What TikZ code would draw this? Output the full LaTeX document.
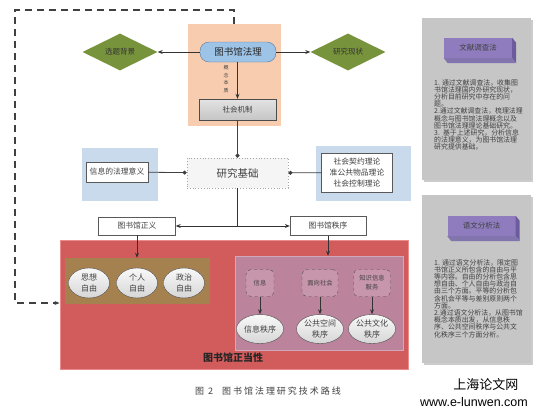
\documentclass[tikz,border=0pt]{standalone}
\usepackage{fontspec}
\setmainfont{Noto Sans CJK SC}
\newfontfamily\capfont[LetterSpace=22]{Noto Sans CJK SC}
\newfontfamily\urlfont{Liberation Sans}
\usetikzlibrary{shapes.geometric,arrows.meta}

\definecolor{peach}{RGB}{248,205,175}
\definecolor{lawblue}{RGB}{157,195,230}
\definecolor{lawedge}{RGB}{90,120,160}
\definecolor{olivegreen}{RGB}{119,147,60}
\definecolor{paleblue}{RGB}{200,218,235}
\definecolor{redbg}{RGB}{210,92,92}
\definecolor{redline}{RGB}{232,140,140}
\definecolor{brownbg}{RGB}{165,129,80}
\definecolor{mauve}{RGB}{188,132,156}
\definecolor{mauvebox}{RGB}{200,150,172}
\definecolor{panelgray}{RGB}{198,198,198}
\definecolor{methodfront}{RGB}{142,124,190}
\definecolor{methodside}{RGB}{108,92,158}
\definecolor{txt}{RGB}{64,64,64}

\tikzset{
  whitebox/.style={draw=gray!70!black,fill=white,inner sep=0pt,text=txt,
    font=\fontsize{7.8}{11}\selectfont,align=center},
  diam/.style={diamond,fill=olivegreen,inner sep=0pt,minimum width=75pt,
    minimum height=29pt,text=black!80,font=\fontsize{7.5}{9}\selectfont},
  oval/.style={ellipse,draw=gray!60!black,top color=gray!5,bottom color=gray!32,
    inner sep=0pt,text=txt,font=\fontsize{8}{11}\selectfont,align=center},
  dashsq/.style={draw=black!70,dashed,rounded corners=5pt,fill=mauvebox,inner sep=0pt,
    minimum height=27pt,text=txt,font=\fontsize{6.3}{9}\selectfont,align=center},
  link/.style={thick,black!80,-{Stealth[length=5pt,width=4pt]}},
  dotlink/.style={thick,black!75,-{Circle[length=4pt]}},
  panel/.style={fill=panelgray,inner sep=0pt,minimum width=109pt},
  method/.style={fill=methodfront,inner sep=0pt,minimum width=68pt,minimum height=20pt,
    text=txt,font=\fontsize{7.5}{9}\selectfont},
  note/.style={text=txt,align=left,inner sep=0pt,font=\fontsize{6.9}{7.2}\selectfont}
}

\begin{document}
\begin{tikzpicture}[x=1pt,y=-1pt]
\useasboundingbox (0,0) rectangle (533,415);

% background blocks
\node[fill=peach,minimum width=93pt,minimum height=102pt,inner sep=0pt] (core) at (234.5,75) {};
\fill[paleblue] (82,148) rectangle (158,201);
\fill[paleblue] (316,146) rectangle (411,201);

% top part
\node[draw=lawedge,fill=lawblue,rounded corners=9pt,minimum width=76pt,minimum height=20pt,
  inner sep=0pt,text=black!85,font=\fontsize{9.5}{11}\selectfont] (law) at (238,52) {图书馆法理};
\node[diam] (topic) at (120,52) {选题背景};
\node[diam] (status) at (348,52) {研究现状};
\node[draw=gray!60!black,top color=gray!22,bottom color=gray!45,minimum width=77pt,
  minimum height=21pt,inner sep=0pt,text=txt,font=\fontsize{7.5}{9}\selectfont] (mech) at (237.5,109.5) {社会机制};
\node[text=txt,align=center,inner sep=0pt,font=\fontsize{5}{7.5}\selectfont] (essence) at (226,79) {概\\念\\本\\质};

\draw[link] (law) -- (topic);
\draw[link] (law) -- (status);
\draw[link] (law.south -| mech.north) -- (mech);

% research basis
\node[draw=gray!70,dotted,thick,fill=gray!8,minimum width=101pt,minimum height=30pt,
  inner sep=0pt,text=txt,font=\fontsize{10.5}{12}\selectfont] (base) at (237.5,173) {研究基础};
\node[whitebox,minimum width=62pt,minimum height=20pt] (info) at (117,172) {信息的法理意义};
\node[whitebox,minimum width=71pt,minimum height=39pt] (theory) at (357,172.5) {社会契约理论\\准公共物品理论\\社会控制理论};

\draw[dotlink] (mech) -- (base);
\draw[dotlink] (info) -- (base);
\draw[dotlink] (theory) -- (base);

\node[whitebox,minimum width=77pt,minimum height=18pt] (just) at (137,226) {图书馆正义};
\node[whitebox,minimum width=76pt,minimum height=19pt] (order) at (328,226) {图书馆秩序};
\coordinate (fork) at (237.5,226);
\draw[thick,black!80] (base) -- (fork);
\draw[link] (fork) -- (just);
\draw[link] (fork) -- (order);

% legitimacy block
\node[fill=redbg,draw=redline,line width=1pt,minimum width=348pt,minimum height=129pt,
  inner sep=0pt] (legit) at (234,304.5) {};
\node[text=black!85,font=\fontsize{10}{12}\selectfont\bfseries] (legitlabel) at (233,358) {图书馆正当性};

\node[fill=brownbg,minimum width=145pt,minimum height=46pt,inner sep=0pt] (free) at (137,281) {};
\node[oval,minimum width=41pt,minimum height=30pt] (thought) at (89,283) {思想\\自由};
\node[oval,minimum width=41pt,minimum height=30pt] (person) at (137,283) {个人\\自由};
\node[oval,minimum width=41pt,minimum height=30pt] (politic) at (184,283) {政治\\自由};

\node[fill=mauve,draw=mauve!70!white,minimum width=168pt,minimum height=94pt,inner sep=0pt] (ord) at (319,303) {};
\node[dashsq,minimum width=28pt] (infosq) at (260,283) {信息};
\node[dashsq,minimum width=36pt] (socsq) at (320,283) {面向社会};
\node[dashsq,minimum width=37pt] (servsq) at (372,283) {知识信息\\服务};
\node[oval,minimum width=47pt,minimum height=29pt] (infoord) at (260,329) {信息秩序};
\node[oval,minimum width=47pt,minimum height=29pt] (spaceord) at (320,329) {公共空间\\秩序};
\node[oval,minimum width=47pt,minimum height=29pt] (cultord) at (372,329) {公共文化\\秩序};

\draw[link] (just) -- (free);
\draw[link] (order) -- (order |- ord.north);
\draw[link] (infosq) -- (infoord);
\draw[link] (socsq) -- (spaceord);
\draw[link] (servsq) -- (cultord);

% dashed loop back
\coordinate (loopstart) at (234,24);
\draw[black!75,line width=1.1pt,dash pattern=on 7pt off 5pt,-{Stealth[length=5pt,width=4pt]}]
  (loopstart) -- (234,10) -- (15,10) -- (15,303) -- (legit.west |- 15,303);

% method panels
\fill[gray!40] (424,20) rectangle (533,182);
\node[panel,minimum height=162pt] (panel1) at (476.5,99) {};
\node[method] (literature) at (478,48) {文献调查法};
\fill[methodside] (literature.north east) -- ++(4,5) -- ([shift={(4,5)}]literature.south east) -- (literature.south east) -- cycle;
\fill[methodside!85!white] (literature.south west) -- (literature.south east) -- ++(4,5) -- ([shift={(4,5)}]literature.south west) -- cycle;
\node[note,anchor=north west] (note1) at (434,79) {1. 通过文献调查法，收集图\\书馆法理国内外研究现状，\\分析目前研究中存在的问\\题。\\2.通过文献调查法，梳理法理\\概念与图书馆法理概念以及\\图书馆法理理论基础研究。\\3.\ \ 基于上述研究，分析信息\\的法理意义，为图书馆法理\\研究提供基础。};

\fill[gray!40] (424,197) rectangle (533,365);
\node[panel,minimum height=168pt] (panel2) at (476.5,279) {};
\node[method] (semantic) at (481.5,226) {语文分析法};
\fill[methodside] (semantic.north east) -- ++(4,5) -- ([shift={(4,5)}]semantic.south east) -- (semantic.south east) -- cycle;
\fill[methodside!85!white] (semantic.south west) -- (semantic.south east) -- ++(4,5) -- ([shift={(4,5)}]semantic.south west) -- cycle;
\node[note,anchor=north west] (note2) at (434,259) {1. 通过语文分析法，限定图\\书馆正义所包含的自由与平\\等内容。自由的分析包含思\\想自由、个人自由与政治自\\由三个方面。平等的分析包\\含机会平等与差别原则两个\\方面。\\2.通过语文分析法，从图书馆\\概念本质出发，从信息秩\\序、公共空间秩序与公共文\\化秩序三个方面分析。};

% caption and mark
\node[text=black!75,font=\capfont\fontsize{9}{11}\selectfont] (caption) at (268,391) {图 2\quad 图书馆法理研究技术路线};
\node[anchor=east,font=\fontsize{13}{15}\selectfont] (mark) at (522,384) {上海论文网};
\node[font=\urlfont\fontsize{12.5}{14}\selectfont] (url) at (474,402) {www.e-lunwen.com};
\end{tikzpicture}
\end{document}
